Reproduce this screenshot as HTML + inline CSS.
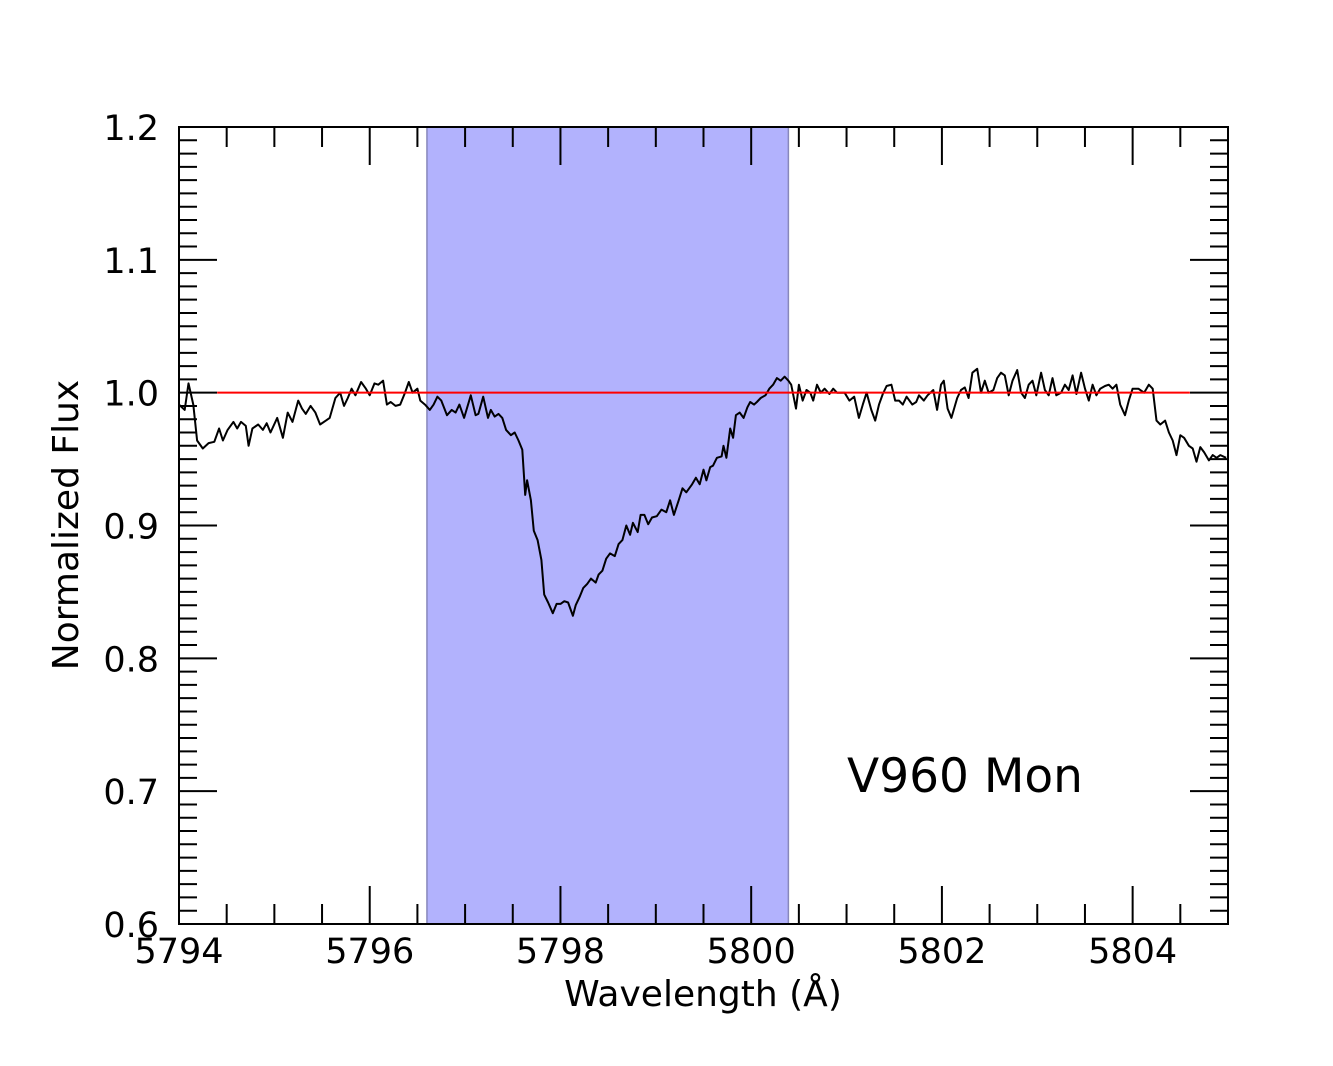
<!DOCTYPE html>
<html><head><meta charset="utf-8"><style>
html,body{margin:0;padding:0;background:#fff;}
svg{display:block;font-family:"DejaVu Sans","Liberation Sans",sans-serif;}
</style></head><body>
<svg id="chart" width="1333" height="1066" viewBox="0 0 1333 1066" xmlns="http://www.w3.org/2000/svg">
<rect width="1333" height="1066" fill="#fff"/>
<g id="g"></g>
</svg>
<script>
const wavelength=[5794.00,5794.06,5794.10,5794.15,5794.19,5794.25,5794.31,5794.37,5794.42,5794.46,5794.51,5794.57,5794.61,5794.65,5794.70,5794.73,5794.77,5794.83,5794.88,5794.92,5794.96,5795.03,5795.09,5795.14,5795.19,5795.25,5795.29,5795.33,5795.38,5795.43,5795.48,5795.54,5795.58,5795.64,5795.69,5795.73,5795.77,5795.81,5795.85,5795.91,5795.96,5796.00,5796.05,5796.09,5796.14,5796.18,5796.22,5796.27,5796.32,5796.37,5796.41,5796.45,5796.50,5796.53,5796.58,5796.63,5796.67,5796.71,5796.75,5796.81,5796.86,5796.90,5796.94,5796.99,5797.06,5797.11,5797.14,5797.19,5797.24,5797.27,5797.31,5797.35,5797.39,5797.43,5797.48,5797.52,5797.56,5797.60,5797.63,5797.65,5797.69,5797.72,5797.76,5797.80,5797.83,5797.87,5797.92,5797.96,5798.00,5798.04,5798.08,5798.13,5798.16,5798.20,5798.24,5798.28,5798.32,5798.37,5798.40,5798.44,5798.48,5798.52,5798.57,5798.61,5798.65,5798.69,5798.73,5798.76,5798.81,5798.84,5798.88,5798.92,5798.96,5799.01,5799.06,5799.11,5799.15,5799.19,5799.24,5799.28,5799.32,5799.35,5799.38,5799.42,5799.46,5799.50,5799.53,5799.57,5799.60,5799.64,5799.69,5799.71,5799.74,5799.78,5799.81,5799.84,5799.88,5799.92,5799.96,5799.99,5800.03,5800.06,5800.10,5800.15,5800.19,5800.23,5800.27,5800.31,5800.35,5800.39,5800.42,5800.47,5800.50,5800.54,5800.58,5800.62,5800.65,5800.69,5800.73,5800.77,5800.82,5800.86,5800.90,5800.94,5800.98,5801.03,5801.08,5801.13,5801.17,5801.21,5801.26,5801.30,5801.34,5801.38,5801.42,5801.47,5801.51,5801.55,5801.59,5801.63,5801.69,5801.73,5801.76,5801.81,5801.85,5801.91,5801.95,5801.99,5802.02,5802.06,5802.10,5802.16,5802.20,5802.24,5802.28,5802.32,5802.37,5802.41,5802.45,5802.49,5802.54,5802.58,5802.62,5802.66,5802.70,5802.74,5802.79,5802.83,5802.87,5802.91,5802.95,5802.99,5803.04,5803.08,5803.12,5803.16,5803.20,5803.25,5803.29,5803.33,5803.37,5803.41,5803.46,5803.50,5803.54,5803.58,5803.62,5803.66,5803.71,5803.75,5803.79,5803.83,5803.87,5803.92,5803.96,5804.00,5804.06,5804.12,5804.17,5804.21,5804.25,5804.29,5804.34,5804.38,5804.42,5804.46,5804.50,5804.54,5804.59,5804.63,5804.67,5804.71,5804.75,5804.80,5804.84,5804.88,5804.92,5804.98];
const flux=[0.991,0.987,1.007,0.991,0.964,0.958,0.962,0.963,0.973,0.964,0.972,0.978,0.973,0.978,0.975,0.960,0.973,0.976,0.972,0.977,0.970,0.981,0.966,0.985,0.978,0.994,0.988,0.984,0.990,0.985,0.976,0.979,0.981,0.996,1.000,0.990,0.996,1.003,0.998,1.008,1.003,0.998,1.007,1.006,1.009,0.991,0.993,0.990,0.991,1.000,1.008,1.000,1.003,0.994,0.991,0.987,0.991,0.997,0.994,0.983,0.987,0.985,0.991,0.981,0.998,0.983,0.984,0.997,0.981,0.987,0.982,0.984,0.981,0.972,0.968,0.970,0.964,0.957,0.923,0.934,0.919,0.896,0.889,0.874,0.848,0.842,0.834,0.841,0.841,0.843,0.842,0.832,0.840,0.846,0.853,0.856,0.860,0.857,0.863,0.866,0.875,0.879,0.877,0.886,0.889,0.900,0.893,0.902,0.895,0.908,0.908,0.901,0.906,0.907,0.912,0.910,0.919,0.908,0.919,0.928,0.925,0.928,0.931,0.936,0.931,0.942,0.934,0.944,0.945,0.951,0.952,0.960,0.951,0.973,0.966,0.983,0.985,0.981,0.989,0.993,0.991,0.993,0.996,0.998,1.003,1.006,1.011,1.009,1.012,1.009,1.006,0.988,1.006,0.994,1.002,1.000,0.994,1.006,1.000,1.003,0.999,1.003,1.000,1.000,1.000,0.994,0.997,0.981,0.991,1.000,0.987,0.979,0.991,0.999,1.005,1.006,0.994,0.994,0.991,0.997,0.991,0.993,0.998,0.994,0.998,1.002,0.987,1.006,1.009,0.988,0.981,0.996,1.002,1.004,0.996,1.015,1.018,1.000,1.009,1.000,1.002,1.011,1.015,1.013,0.998,1.009,1.017,1.000,0.996,1.006,1.009,0.998,1.015,1.002,0.998,1.011,0.998,1.000,1.006,1.002,1.013,0.999,1.015,1.003,0.994,1.006,0.998,1.003,1.005,1.006,1.003,1.006,0.991,0.983,0.994,1.003,1.003,1.000,1.006,1.003,0.979,0.976,0.979,0.970,0.964,0.953,0.968,0.966,0.960,0.958,0.948,0.959,0.955,0.949,0.953,0.951,0.953,0.951];
const xTickLabels=[5794,5796,5798,5800,5802,5804];
const yTickLabels=[0.6,0.7,0.8,0.9,1.0,1.1,1.2];
const band=[5796.6,5800.39];
const continuum=[5794.4,5804.6];
const xDomain=[5794,5805], yDomain=[0.6,1.2];
const L=179,R=1228,T=127,B=924;
const sx=v=>L+(v-xDomain[0])/(xDomain[1]-xDomain[0])*(R-L);
const sy=v=>B-(v-yDomain[0])/(yDomain[1]-yDomain[0])*(B-T);
const NS="http://www.w3.org/2000/svg", g=document.getElementById('g');
function mk(t,a,txt){const e=document.createElementNS(NS,t);for(const k in a)e.setAttribute(k,a[k]);if(txt!=null)e.textContent=txt;g.appendChild(e);return e;}
let e;
e=mk('rect',{x:sx(band[0]),y:T,width:sx(band[1])-sx(band[0]),height:B-T,fill:'#b2b2fd',stroke:'#8888bb','stroke-width':1.5});


let d=wavelength.map((w,i)=>(i?'L':'M')+sx(w).toFixed(1)+','+sy(flux[i]).toFixed(1)).join('');
e=mk('path',{d:d,fill:'none',stroke:'#000','stroke-width':2,'stroke-linejoin':'round'});


e=mk('line',{x1:sx(continuum[0]),x2:sx(continuum[1]),y1:sy(1),y2:sy(1),stroke:'#f00','stroke-width':2});


let tp='';
for(let v=5794;v<=5805.001;v+=0.5){const x=sx(v);const major=Math.abs(v%2)<1e-6;const len=major?38:20;tp+=`M${x},${B}v${-len}M${x},${T}v${len}`;}
for(let i=0;i<=60;i++){const v=0.6+i*0.01;const y=sy(v);const len=i%10===0?38:18;tp+=`M${L},${y}h${len}M${R},${y}h${-len}`;}
e=mk('path',{d:tp,stroke:'#000','stroke-width':2,fill:'none'});


e=mk('rect',{x:L,y:T,width:R-L,height:B-T,fill:'none',stroke:'#000','stroke-width':2});


xTickLabels.forEach(v=>{e=mk('text',{x:sx(v),y:963,'font-size':35,'text-anchor':'middle'},String(v));

});
yTickLabels.forEach(v=>{e=mk('text',{x:159,y:sy(v)+13,'font-size':35,'text-anchor':'end'},v.toFixed(1));

});
e=mk('text',{x:703,y:1006,'font-size':36,'text-anchor':'middle'},'Wavelength (Å)');


e=mk('text',{x:0,y:0,'font-size':36,'text-anchor':'middle',transform:'translate(78,525) rotate(-90)'},'Normalized Flux');


e=mk('text',{x:965,y:792,'font-size':47,'text-anchor':'middle'},'V960 Mon');


</script>
</body></html>
